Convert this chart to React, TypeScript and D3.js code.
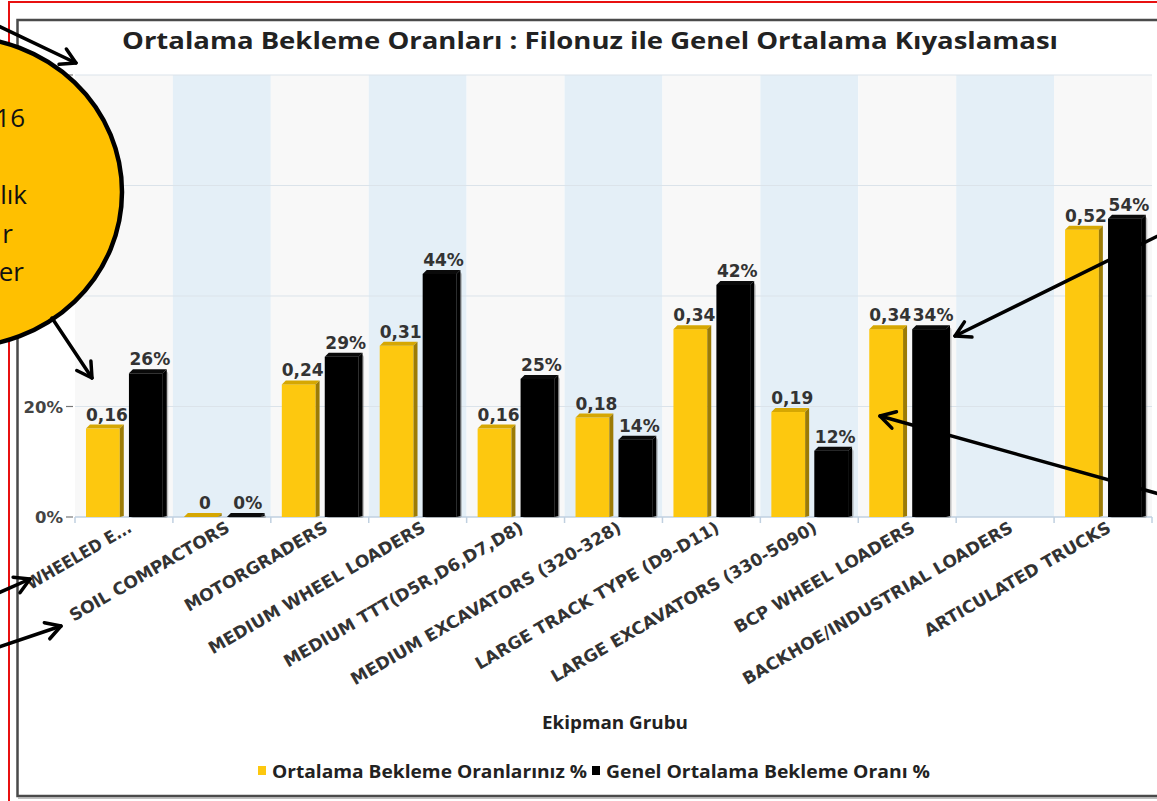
import React from 'react';
import * as d3 from 'd3';

const categories = [
  'WHEELED E...',
  'SOIL COMPACTORS',
  'MOTORGRADERS',
  'MEDIUM WHEEL LOADERS',
  'MEDIUM TTT(D5R,D6,D7,D8)',
  'MEDIUM EXCAVATORS (320-328)',
  'LARGE TRACK TYPE (D9-D11)',
  'LARGE EXCAVATORS (330-5090)',
  'BCP WHEEL LOADERS',
  'BACKHOE/INDUSTRIAL LOADERS',
  'ARTICULATED TRUCKS',
];
// yellow series: fleet rate (fraction), black series: general rate (percent)
const fleetRates = [0.16, 0, 0.24, 0.31, 0.16, 0.18, 0.34, 0.19, 0.34, null, 0.52];
const generalRates = [26, 0, 29, 44, 25, 14, 42, 12, 34, null, 54];
const yTicks = [0, 20, 40, 60, 80];
const seriesNames = ['Ortalama Bekleme Oranlarınız %', 'Genel Ortalama Bekleme Oranı %'];
const calloutLines = ['16', '', 'lık', 'r', 'er'];

const W = 1157;
const H = 801;
const plot = { left: 75, right: 1152, top: 75, bottom: 517 };
const YELLOW = '#fdc80f';
const FONT = '"DejaVu Sans", Verdana, sans-serif';

const Bar3D = ({ x0, w, yTop, base, front, top, side }) => {
  const d = 4;
  return (
    <g>
      <rect x={x0} y={yTop} width={w - d} height={Math.max(0, base - yTop)} fill={front} />
      <polygon
        points={`${x0},${yTop} ${x0 + d},${yTop - d} ${x0 + w},${yTop - d} ${x0 + w - d},${yTop}`}
        fill={top}
      />
      <polygon
        points={`${x0 + w - d},${yTop} ${x0 + w},${yTop - d} ${x0 + w},${base - 1} ${x0 + w - d},${base}`}
        fill={side}
      />
    </g>
  );
};

const Arrow = ({ x1, y1, x2, y2 }) => {
  const a = Math.atan2(y2 - y1, x2 - x1);
  const len = 17;
  const spread = Math.PI / 6;
  const p1 = [x2 - len * Math.cos(a - spread), y2 - len * Math.sin(a - spread)];
  const p2 = [x2 - len * Math.cos(a + spread), y2 - len * Math.sin(a + spread)];
  return (
    <g stroke="#000" strokeWidth={3.5} fill="none" strokeLinecap="round" strokeLinejoin="round">
      <line x1={x1} y1={y1} x2={x2} y2={y2} />
      <polyline points={`${p1[0]},${p1[1]} ${x2},${y2} ${p2[0]},${p2[1]}`} />
    </g>
  );
};

export default function App() {
  const x = d3.scaleBand().domain(categories).range([plot.left, plot.right]);
  const inner = d3
    .scaleBand()
    .domain(['fleet', 'general'])
    .range([0, x.bandwidth()])
    .paddingInner(0.12)
    .paddingOuter(0.2)
    .align(0.64);
  const y = d3.scaleLinear().domain([0, 0.8]).range([plot.bottom, plot.top]);
  const bw = inner.bandwidth();

  return (
    <svg
      width={W}
      height={H}
      style={{ position: 'absolute', left: 0, top: 0, background: '#fff' }}
    >
      {/* outer red frame and chart frame */}
      <rect x={9} y={2} width={1300} height={1300} fill="#fff" stroke="#e81010" strokeWidth={2} />
      <rect x={17.5} y={20} width={1300} height={776} fill="#fff" stroke="#4a4a4a" strokeWidth={2.5} />
      <line x1={18} y1={798} x2={W} y2={798} stroke="#aaa" strokeWidth={1.5} />

      {/* plot bands */}
      {categories.map((c, i) => (
        <rect
          key={c}
          x={x(c)}
          y={plot.top}
          width={x.bandwidth()}
          height={plot.bottom - plot.top}
          fill={i % 2 === 0 ? '#f8f8f8' : '#e4eff7'}
        />
      ))}

      {/* grid */}
      {yTicks.slice(1).map((t) => (
        <line key={t} x1={plot.left} x2={plot.right} y1={y(t / 100)} y2={y(t / 100)} stroke="#dbe3ea" strokeWidth={1} />
      ))}

      {/* y axis labels */}
      {yTicks.map((t) => (
        <g key={t}>
          <line x1={66} x2={73} y1={y(t / 100)} y2={y(t / 100)} stroke="#777" strokeWidth={1.2} />
          <text
            x={63}
            y={y(t / 100) + 6}
            textAnchor="end"
            fontFamily={FONT}
            fontWeight="bold"
            fontSize={16.5}
            fill="#444"
          >
            {`${t}%`}
          </text>
        </g>
      ))}

      {/* x axis */}
      <line x1={plot.left} x2={plot.right} y1={plot.bottom} y2={plot.bottom} stroke="#c0d0e0" strokeWidth={1.5} />
      {categories.map((c) => (
        <line key={c} x1={x(c) + x.bandwidth()} x2={x(c) + x.bandwidth()} y1={plot.bottom} y2={plot.bottom + 6} stroke="#c0d0e0" strokeWidth={1.5} />
      ))}
      <line x1={plot.left} x2={plot.left} y1={plot.bottom} y2={plot.bottom + 6} stroke="#c0d0e0" strokeWidth={1.5} />

      {/* bars */}
      {categories.map((c, i) => {
        const fv = fleetRates[i];
        const gv = generalRates[i];
        const fx = x(c) + inner('fleet');
        const gx = x(c) + inner('general');
        return (
          <g key={c}>
            {fv !== null && (
              <Bar3D x0={fx} w={bw} yTop={y(fv)} base={plot.bottom} front={YELLOW} top="#d6a702" side="#9c7b05" />
            )}
            {gv !== null && (
              <g>
                <rect x={gx + 1.5} y={y(gv / 100) - 2} width={bw} height={plot.bottom - y(gv / 100) + 3} rx={3} fill="#777" opacity={0.45} />
                <Bar3D x0={gx} w={bw} yTop={y(gv / 100)} base={plot.bottom} front="#000" top="#0a0a0a" side="#000" />
              </g>
            )}
          </g>
        );
      })}

      {/* data labels */}
      {categories.map((c, i) => {
        const fv = fleetRates[i];
        const gv = generalRates[i];
        const fx = x(c) + inner('fleet') + bw / 2 + 2;
        const gx = x(c) + inner('general') + bw / 2 + 2;
        return (
          <g key={c} fontFamily={FONT} fontWeight="bold" fontSize={17} fill="#333" textAnchor="middle">
            {fv !== null && (
              <text x={fx} y={y(fv) - 8}>{String(fv).replace('.', ',')}</text>
            )}
            {gv !== null && (
              <text x={gx} y={y(gv / 100) - 8}>{`${gv}%`}</text>
            )}
          </g>
        );
      })}

      {/* x labels */}
      {categories.map((c) => {
        const cx = x(c) + x.bandwidth() / 2 + 9;
        const cy = plot.bottom + 14;
        const truncated = c.endsWith('...');
        return (
          <text
            key={c}
            transform={`translate(${cx},${cy}) rotate(-30)`}
            textAnchor="end"
            fontFamily={FONT}
            fontWeight="bold"
            fontSize={17}
            fill="#333"
            textLength={truncated ? 118 : undefined}
            lengthAdjust={truncated ? 'spacingAndGlyphs' : undefined}
          >
            {c}
          </text>
        );
      })}

      {/* title */}
      <text
        x={122}
        y={49}
        textLength={936}
        lengthAdjust="spacingAndGlyphs"
        fontFamily='"Open Sans", sans-serif'
        fontWeight="bold"
        fontSize={24}
        fill="#222"
      >
        Ortalama Bekleme Oranları : Filonuz ile Genel Ortalama Kıyaslaması
      </text>

      {/* axis title */}
      <text
        x={542}
        y={729}
        textLength={146}
        lengthAdjust="spacingAndGlyphs"
        fontFamily='"Open Sans", sans-serif'
        fontWeight="bold"
        fontSize={18}
        fill="#222"
      >
        Ekipman Grubu
      </text>

      {/* legend */}
      <rect x={258} y={766} width={8} height={9} fill={YELLOW} />
      <text x={272} y={778} textLength={315} lengthAdjust="spacingAndGlyphs" fontFamily='"Open Sans", sans-serif' fontWeight="bold" fontSize={18} fill="#222">
        {seriesNames[0]}
      </text>
      <rect x={592} y={766} width={8} height={9} fill="#000" />
      <text x={606} y={778} textLength={324} lengthAdjust="spacingAndGlyphs" fontFamily='"Open Sans", sans-serif' fontWeight="bold" fontSize={18} fill="#222">
        {seriesNames[1]}
      </text>

      {/* callout */}
      <Arrow x1={-10} y1={22} x2={76} y2={63} />
      <ellipse cx={-40} cy={192} rx={162} ry={155} fill="#ffc000" stroke="#000" strokeWidth={4.5} />
      {calloutLines.map((l, i) => (
        <text
          key={i}
          x={[25, 0, 27, 13, 24][i]}
          y={127 + i * 38.5}
          textAnchor="end"
          fontFamily='"Open Sans", sans-serif'
          fontSize={26}
          fill="#111"
        >
          {l}
        </text>
      ))}
      <Arrow x1={52} y1={318} x2={92} y2={378} />
      <Arrow x1={-4} y1={594} x2={30} y2={579} />
      <Arrow x1={-4} y1={648} x2={61} y2={626} />
      <Arrow x1={1170} y1={230} x2={955} y2={336} />
      <Arrow x1={1170} y1={497} x2={880} y2={416} />
    </svg>
  );
}
